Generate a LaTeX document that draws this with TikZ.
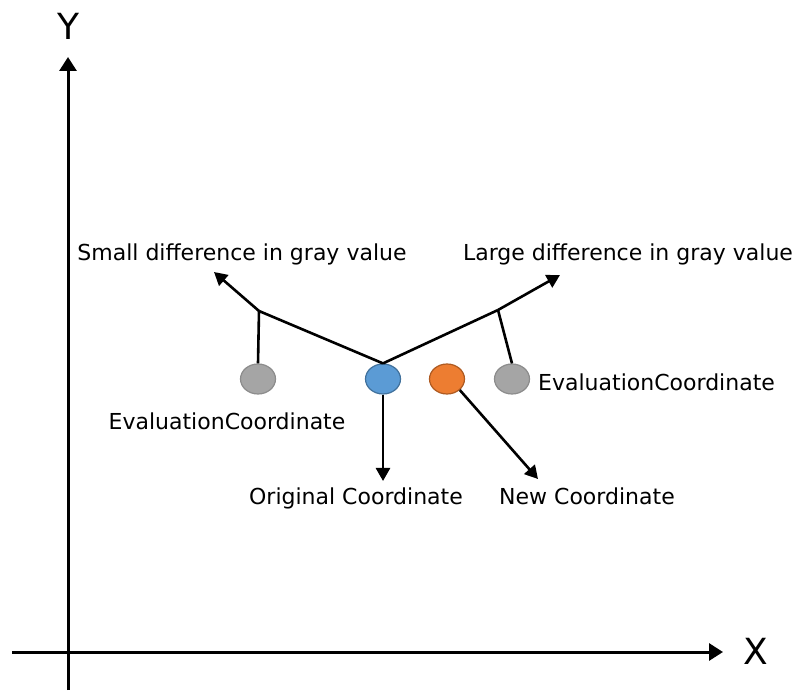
\documentclass[tikz,border=0pt]{standalone}
\usepackage{fontspec}
\setmainfont{DejaVu Sans}
\usetikzlibrary{arrows.meta,shapes.geometric}
\definecolor{ptblue}{HTML}{5B9BD5}
\definecolor{ptblueline}{HTML}{41719C}
\definecolor{ptorange}{HTML}{ED7D31}
\definecolor{ptorangeline}{HTML}{AE5A21}
\definecolor{ptgray}{HTML}{A5A5A5}
\definecolor{ptgrayline}{HTML}{8C8C8C}
\tikzset{
  pt/.style={ellipse,minimum width=35pt,minimum height=30pt,inner sep=0pt,line width=1.2pt},
  lbl/.style={font=\fontsize{22}{26}\selectfont,inner sep=0pt,anchor=base},
  axlbl/.style={font=\fontsize{36}{40}\selectfont,inner sep=0pt},
  link/.style={line width=2.6pt},
  arr/.style={link,-{Triangle[length=13pt,width=14pt]}},
}
\begin{document}
\begin{tikzpicture}[x=1pt,y=-1pt]
  \useasboundingbox (0,0) rectangle (796,692);
  % axes
  \coordinate (ybot) at (68,690);
  \coordinate (ytop) at (68,57);
  \coordinate (xleft) at (12,652);
  \coordinate (xright) at (723,652);
  \draw[line width=3pt,-{Triangle[length=14pt,width=17pt]}] (ybot) -- (ytop);
  \draw[line width=3pt,-{Triangle[length=14pt,width=17pt]}] (xleft) -- (xright);
  \node[axlbl] (ylab) at (68,26) {Y};
  \node[axlbl] (xlab) at (756,651) {X};
  % coordinates
  \node[pt,fill=ptblue,draw=ptblueline] (orig) at (383,379) {};
  \node[pt,fill=ptorange,draw=ptorangeline] (new) at (447,379) {};
  \node[pt,fill=ptgray,draw=ptgrayline] (evall) at (258,379) {};
  \node[pt,fill=ptgray,draw=ptgrayline] (evalr) at (512,379) {};
  \coordinate (jl) at (259,311);
  \coordinate (jr) at (498,310);
  \coordinate (small) at (214,272);
  \coordinate (large) at (560,275);
  \coordinate (origend) at (383,481);
  \coordinate (newend) at (538,479);
  % connectors
  \draw[link] (orig.north) -- (jl);
  \draw[arr] (jl) -- (small);
  \draw[link] (orig.north) -- (jr);
  \draw[arr] (jr) -- (large);
  \draw[link] (jl) -- (evall.north);
  \draw[link] (jr) -- (evalr.north);
  \draw[arr] (orig.south) -- (origend);
  \draw[arr] (new.south east) -- (newend);
  % labels
  \node[lbl] (smalllab) at (242,261) {Small difference in gray value};
  \node[lbl] (largelab) at (628,261) {Large difference in gray value};
  \node[lbl] (evalllab) at (227,430) {EvaluationCoordinate};
  \node[lbl,anchor=base west] (evalrlab) at (538,391) {EvaluationCoordinate};
  \node[lbl] (origlab) at (356,505) {Original Coordinate};
  \node[lbl] (newlab) at (587,505) {New Coordinate};
\end{tikzpicture}
\end{document}
